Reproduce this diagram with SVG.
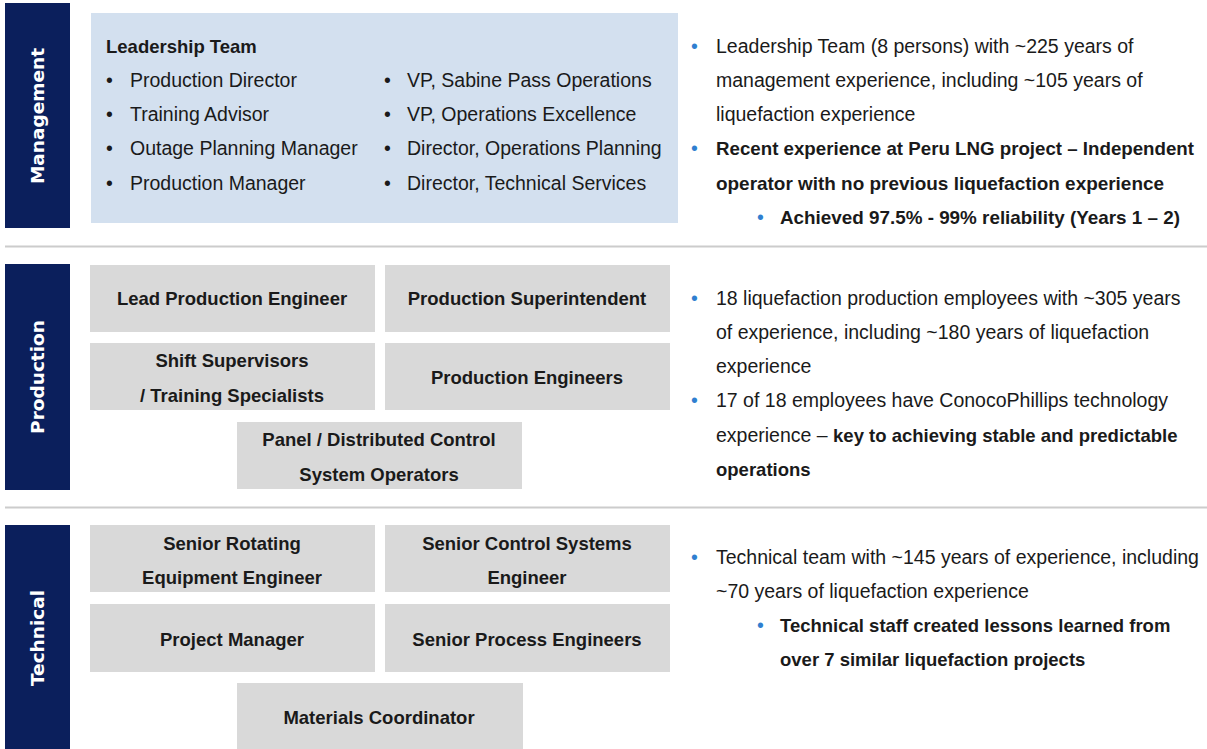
<svg xmlns="http://www.w3.org/2000/svg" width="1207" height="749" viewBox="0 0 1207 749">
  <style>
    .band { fill: #0b1f5c; }
    .bandlbl { font-family: "DejaVu Sans", sans-serif; font-weight: bold; font-size: 18.5px; fill: #ffffff; text-anchor: middle; }
    .lead { fill: #d3e0ef; }
    .role { fill: #d9d9d9; }
    .rule { stroke: #cccccc; stroke-width: 2; }
    .t { font-family: "Liberation Sans", Arial, sans-serif; font-size: 19.5px; fill: #1a1a1a; }
    .b { font-weight: bold; font-size: 18.5px; }
    .c { text-anchor: middle; }
    .dot { fill: #2f7fd0; }
  </style>

  <!-- section dividers -->
  <g id="dividers">
    <line class="rule" x1="5" y1="246.5" x2="1207" y2="246.5"/>
    <line class="rule" x1="5" y1="507.5" x2="1207" y2="507.5"/>
  </g>

  <!-- ===== Management ===== -->
  <g id="band-management">
    <rect class="band" x="5" y="3" width="65" height="225"/>
    <text class="bandlbl" transform="translate(44 116) rotate(-90)">Management</text>
  </g>

  <g id="leadership-team">
    <rect class="lead" x="91" y="13" width="587" height="210"/>
    <text class="t b" x="106" y="53">Leadership Team</text>
    <g class="t">
      <text x="106" y="87">•</text><text x="130" y="87">Production Director</text>
      <text x="106" y="121">•</text><text x="130" y="121">Training Advisor</text>
      <text x="106" y="155">•</text><text x="130" y="155">Outage Planning Manager</text>
      <text x="106" y="190">•</text><text x="130" y="190">Production Manager</text>
      <text x="384" y="87">•</text><text x="407" y="87">VP, Sabine Pass Operations</text>
      <text x="384" y="121">•</text><text x="407" y="121">VP, Operations Excellence</text>
      <text x="384" y="155">•</text><text x="407" y="155">Director, Operations Planning</text>
      <text x="384" y="190">•</text><text x="407" y="190">Director, Technical Services</text>
    </g>
  </g>

  <g id="notes-management" class="t">
    <text class="dot" x="691" y="53">•</text>
    <text x="716" y="53">Leadership Team (8 persons) with ~225 years of</text>
    <text x="716" y="87">management experience, including ~105 years of</text>
    <text x="716" y="121">liquefaction experience</text>
    <text class="dot" x="691" y="155">•</text>
    <text class="b" x="716" y="155" textLength="478" lengthAdjust="spacingAndGlyphs">Recent experience at Peru LNG project – Independent</text>
    <text class="b" x="716" y="190" textLength="448" lengthAdjust="spacingAndGlyphs">operator with no previous liquefaction experience</text>
    <text class="dot" x="757" y="224">•</text>
    <text class="b" x="780" y="224" textLength="400" lengthAdjust="spacingAndGlyphs">Achieved 97.5% - 99% reliability (Years 1 – 2)</text>
  </g>

  <!-- ===== Production ===== -->
  <g id="band-production">
    <rect class="band" x="5" y="264" width="65" height="226"/>
    <text class="bandlbl" transform="translate(44 377) rotate(-90)">Production</text>
  </g>

  <g id="lead-production-engineer">
    <rect class="role" x="90" y="265" width="285" height="67"/>
    <text class="t b c" x="232" y="305">Lead Production Engineer</text>
  </g>
  <g id="production-superintendent">
    <rect class="role" x="385" y="265" width="285" height="67"/>
    <text class="t b c" x="527" y="305">Production Superintendent</text>
  </g>
  <g id="shift-supervisors">
    <rect class="role" x="90" y="343" width="285" height="67"/>
    <text class="t b c" x="232" y="367">Shift Supervisors</text>
    <text class="t b c" x="232" y="402">/ Training Specialists</text>
  </g>
  <g id="production-engineers">
    <rect class="role" x="385" y="343" width="285" height="67"/>
    <text class="t b c" x="527" y="384">Production Engineers</text>
  </g>
  <g id="dcs-operators">
    <rect class="role" x="237" y="422" width="285" height="67"/>
    <text class="t b c" x="379" y="446">Panel / Distributed Control</text>
    <text class="t b c" x="379" y="481">System Operators</text>
  </g>

  <g id="notes-production" class="t">
    <text class="dot" x="691" y="305">•</text>
    <text x="716" y="305">18 liquefaction production employees with ~305 years</text>
    <text x="716" y="339">of experience, including ~180 years of liquefaction</text>
    <text x="716" y="373">experience</text>
    <text class="dot" x="691" y="407">•</text>
    <text x="716" y="407">17 of 18 employees have ConocoPhillips technology</text>
    <text x="716" y="442">experience – <tspan class="b">key to achieving stable and predictable</tspan></text>
    <text class="b" x="716" y="476">operations</text>
  </g>

  <!-- ===== Technical ===== -->
  <g id="band-technical">
    <rect class="band" x="5" y="525" width="65" height="224"/>
    <text class="bandlbl" transform="translate(44 638) rotate(-90)">Technical</text>
  </g>

  <g id="senior-rotating-engineer">
    <rect class="role" x="90" y="525" width="285" height="67"/>
    <text class="t b c" x="232" y="550">Senior Rotating</text>
    <text class="t b c" x="232" y="584">Equipment Engineer</text>
  </g>
  <g id="senior-control-engineer">
    <rect class="role" x="385" y="525" width="285" height="67"/>
    <text class="t b c" x="527" y="550">Senior Control Systems</text>
    <text class="t b c" x="527" y="584">Engineer</text>
  </g>
  <g id="project-manager">
    <rect class="role" x="90" y="604" width="285" height="68"/>
    <text class="t b c" x="232" y="646">Project Manager</text>
  </g>
  <g id="senior-process-engineers">
    <rect class="role" x="385" y="604" width="285" height="68"/>
    <text class="t b c" x="527" y="646">Senior Process Engineers</text>
  </g>
  <g id="materials-coordinator">
    <rect class="role" x="237" y="683" width="286" height="66"/>
    <text class="t b c" x="379" y="724">Materials Coordinator</text>
  </g>

  <g id="notes-technical" class="t">
    <text class="dot" x="691" y="564">•</text>
    <text x="716" y="564">Technical team with ~145 years of experience, including</text>
    <text x="716" y="598">~70 years of liquefaction experience</text>
    <text class="dot" x="757" y="632">•</text>
    <text class="b" x="780" y="632">Technical staff created lessons learned from</text>
    <text class="b" x="780" y="666">over 7 similar liquefaction projects</text>
  </g>

  <!-- no connectors in this chart -->
  <g id="connectors"/>
</svg>
